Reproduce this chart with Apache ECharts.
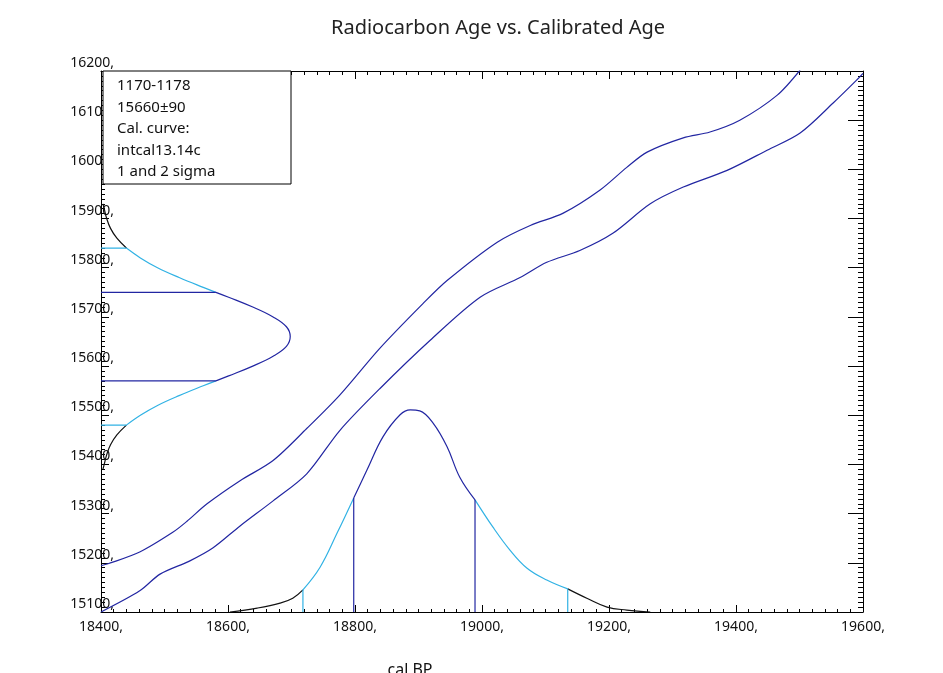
<!DOCTYPE html>
<html>
<head>
<meta charset="utf-8">
<script src="https://cdn.jsdelivr.net/npm/echarts@6/dist/echarts.min.js"></script>
<style>
html,body{margin:0;padding:0;background:#ffffff;}
#chart{width:943px;height:673px;}
</style>
</head>
<body>
<div id="chart"></div>
<script>
// ---- tick values ----
const xTickValues = [18400, 18600, 18800, 19000, 19200, 19400, 19600];
const yTickValues = [15100, 15200, 15300, 15400, 15500, 15600, 15700, 15800, 15900, 16000, 16100, 16200];

// ---- calibration curve (upper / lower envelopes) ----
const curveUpperX = [18400, 18411, 18461, 18513, 18535, 18567, 18619, 18671, 18724, 18776, 18839, 18907, 18945, 19024, 19076, 19128, 19186, 19228, 19260, 19317, 19359, 19406, 19465, 19501];
const curveUpperY = [15194, 15198, 15222, 15262, 15284, 15320, 15367, 15408, 15473, 15541, 15636, 15727, 15774, 15852, 15886, 15911, 15958, 16004, 16035, 16064, 16076, 16100, 16151, 16202];
const curveLowerX = [18400, 18461, 18493, 18540, 18576, 18619, 18671, 18724, 18776, 18839, 18918, 18997, 19060, 19102, 19154, 19206, 19265, 19317, 19386, 19449, 19501, 19553, 19595, 19600];
const curveLowerY = [15100, 15143, 15177, 15204, 15230, 15275, 15326, 15381, 15469, 15554, 15652, 15740, 15780, 15811, 15835, 15870, 15930, 15964, 15998, 16039, 16074, 16135, 16188, 16195];

// ---- radiocarbon age distribution (drawn from the y axis) ----
const radioAge = [15390, 15400, 15420, 15440, 15460, 15480, 15500, 15520, 15540, 15560, 15570, 15580, 15600, 15620, 15640, 15660, 15680, 15700, 15720, 15740, 15750, 15760, 15780, 15800, 15820, 15840, 15860, 15880, 15900, 15920, 15930];
const radioProb = [3, 5, 9, 15, 25, 40, 62, 89, 123, 161, 181, 201, 239, 271, 292, 298, 292, 271, 239, 201, 181, 161, 123, 89, 62, 40, 25, 15, 9, 5, 3];
const radio1Sigma = [15570, 15750];
const radio1SigmaProb = [181, 181];
const radio2Sigma = [15480, 15840];
const radio2SigmaProb = [40, 40];

// ---- calibrated age distribution (drawn from the x axis) ----
const calAge = [18603, 18646, 18682, 18702, 18718, 18745, 18772, 18798, 18819, 18844, 18871, 18887, 18902, 18923, 18945, 18965, 18989, 19017, 19044, 19071, 19102, 19135, 19165, 19197, 19228, 19265];
const calProb = [0, 8, 18, 28, 45, 91, 161, 232, 289, 356, 401, 411, 409, 384, 336, 274, 228, 173, 126, 89, 65, 47, 28, 10, 4, 0];
const cal1Sigma = [18798, 18989];
const cal1SigmaProb = [232, 228];
const cal2Sigma = [18718, 19135];
const cal2SigmaProb = [45, 47];

// ---- legend text ----
const infoLines = ['1170-1178', '15660\u00b190', 'Cal. curve:', 'intcal13.14c', '1 and 2 sigma'];
const titleText = 'Radiocarbon Age vs. Calibrated Age';
const xAxisName = 'cal BP';

// ---------------------------------------------------------------
const X0 = xTickValues[0], X1 = xTickValues[xTickValues.length - 1];
const Y0 = yTickValues[0], Y1 = yTickValues[yTickValues.length - 1];

const DARK = '#2226a2';
const CYAN = '#31b2e4';
const BLACK = '#111111';
const FONT = '"Noto Sans", "DejaVu Sans", sans-serif';

function zip(a, b) { return a.map((v, i) => [v, b[i]]); }

const curveUpper = zip(curveUpperX, curveUpperY);
const curveLower = zip(curveLowerX, curveLowerY);

const radioPts = radioAge.map((a, i) => [X0 + radioProb[i], a]);
function radioSeg(lo, hi) { return radioPts.filter(p => p[1] >= lo && p[1] <= hi); }

const calPts = calAge.map((a, i) => [a, Y0 + calProb[i]]);
function calSeg(lo, hi) { return calPts.filter(p => p[0] >= lo && p[0] <= hi); }

function lineSeries(data, color, width, smooth) {
  return {
    type: 'line', data: data, showSymbol: false, symbol: 'none', smooth: smooth || false,
    xAxisIndex: 0, yAxisIndex: 0, animation: false, silent: true,
    lineStyle: { color: color, width: width || 1.2 }, z: 3
  };
}

const series = [];
series.push(lineSeries(curveUpper, DARK, 1.2, 0.3));
series.push(lineSeries(curveLower, DARK, 1.2, 0.3));

series.push(lineSeries(radioSeg(-Infinity, radio2Sigma[0]), BLACK, 1.2, 0.4));
series.push(lineSeries(radioSeg(radio2Sigma[0], radio1Sigma[0]), CYAN, 1.2, 0.4));
series.push(lineSeries(radioSeg(radio1Sigma[0], radio1Sigma[1]), DARK, 1.2, 0.4));
series.push(lineSeries(radioSeg(radio1Sigma[1], radio2Sigma[1]), CYAN, 1.2, 0.4));
series.push(lineSeries(radioSeg(radio2Sigma[1], Infinity), BLACK, 1.2, 0.4));
radio1Sigma.forEach((a, i) => series.push(lineSeries([[X0, a], [X0 + radio1SigmaProb[i], a]], DARK)));
radio2Sigma.forEach((a, i) => series.push(lineSeries([[X0, a], [X0 + radio2SigmaProb[i], a]], CYAN)));

series.push(lineSeries(calSeg(-Infinity, cal2Sigma[0]), BLACK, 1.2, 0.4));
series.push(lineSeries(calSeg(cal2Sigma[0], cal1Sigma[0]), CYAN, 1.2, 0.4));
series.push(lineSeries(calSeg(cal1Sigma[0], cal1Sigma[1]), DARK, 1.2, 0.4));
series.push(lineSeries(calSeg(cal1Sigma[1], cal2Sigma[1]), CYAN, 1.2, 0.4));
series.push(lineSeries(calSeg(cal2Sigma[1], Infinity), BLACK, 1.2, 0.4));
cal1Sigma.forEach((a, i) => series.push(lineSeries([[a, Y0], [a, Y0 + cal1SigmaProb[i]]], DARK)));
cal2Sigma.forEach((a, i) => series.push(lineSeries([[a, Y0], [a, Y0 + cal2SigmaProb[i]]], CYAN)));

const axisLineStyle = { show: true, onZero: false, lineStyle: { color: '#000', width: 1 } };

const option = {
  backgroundColor: '#ffffff',
  animation: false,
  grid: { left: 101, right: 80, top: 71, bottom: 61, containLabel: false },
  xAxis: [
    {
      type: 'value', position: 'bottom', min: X0, max: X1, interval: xTickValues[1] - xTickValues[0],
      axisLine: axisLineStyle,
      axisTick: { show: true, inside: true, length: 7, lineStyle: { color: '#000' } },
      minorTick: { show: true, splitNumber: 10, length: 3, lineStyle: { color: '#000' } },
      splitLine: { show: false },
      axisLabel: { show: true, margin: 8, color: '#111', fontSize: 14, fontFamily: FONT,
        formatter: v => v + ',' }
    },
    {
      type: 'value', position: 'top', min: X0, max: X1, interval: xTickValues[1] - xTickValues[0],
      axisLine: axisLineStyle,
      axisTick: { show: true, inside: true, length: 8, lineStyle: { color: '#000' } },
      minorTick: { show: true, splitNumber: 10, length: 4, lineStyle: { color: '#000' } },
      splitLine: { show: false },
      axisLabel: { show: false }
    }
  ],
  yAxis: [
    {
      type: 'value', position: 'left', min: Y0, max: Y1, interval: yTickValues[1] - yTickValues[0],
      axisLine: axisLineStyle,
      axisTick: { show: true, inside: true, length: 8, lineStyle: { color: '#000' } },
      minorTick: { show: true, splitNumber: 10, length: 4, lineStyle: { color: '#000' } },
      splitLine: { show: false },
      axisLabel: { show: true, margin: -13, color: '#111', fontSize: 14, fontFamily: FONT,
        verticalAlign: 'bottom', lineHeight: 16, formatter: v => v + ',' }
    },
    {
      type: 'value', position: 'right', min: Y0, max: Y1, interval: yTickValues[1] - yTickValues[0],
      axisLine: axisLineStyle,
      axisTick: { show: true, inside: true, length: 15, lineStyle: { color: '#000' } },
      minorTick: { show: true, splitNumber: 10, length: 5, lineStyle: { color: '#000' } },
      splitLine: { show: false },
      axisLabel: { show: false }
    }
  ],
  graphic: [
    {
      type: 'text', x: 498, y: 28, z: 100,
      style: { text: titleText, fill: '#222', font: '20px ' + FONT, textAlign: 'center', textVerticalAlign: 'middle' }
    },
    {
      type: 'rect', x: 103, y: 71, z: 100,
      shape: { x: 0, y: 0, width: 188, height: 113 },
      style: { fill: '#ffffff', stroke: '#000', lineWidth: 1 }
    },
    ...infoLines.map((t, i) => ({
      type: 'text', x: 117, y: 86 + i * 21.5, z: 101,
      style: { text: t, fill: '#111', font: '15px ' + FONT, textAlign: 'left', textVerticalAlign: 'middle' }
    })),
    {
      type: 'text', x: 410, y: 662, z: 100,
      style: { text: xAxisName, fill: '#111', font: '16px ' + FONT, textAlign: 'center', textVerticalAlign: 'top' }
    }
  ],
  series: series
};

const chart = echarts.init(document.getElementById('chart'), null, { renderer: 'canvas' });
chart.setOption(option);
</script>
</body>
</html>
